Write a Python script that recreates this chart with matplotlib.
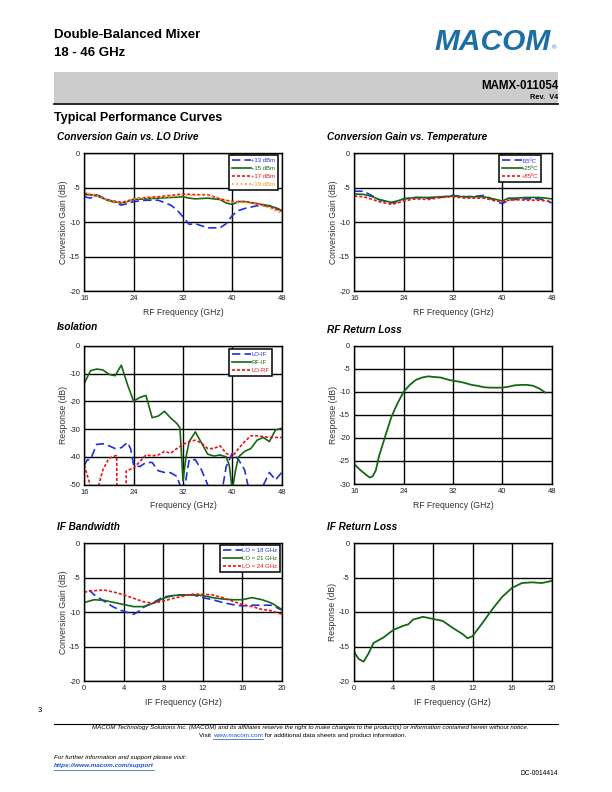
import matplotlib
matplotlib.use("Agg")
import matplotlib.pyplot as plt
from matplotlib.patches import Rectangle
from matplotlib.lines import Line2D

plt.rcParams['font.family'] = ['Liberation Sans', 'DejaVu Sans']
plt.rcParams['axes.unicode_minus'] = False

W, H = 612, 792
BLUE = '#1f2fe0'
GREEN = '#146814'
RED = '#f01010'
ORANGE = '#ff9a1a'

# ---------------- data ----------------
# Conversion gain vs LO drive
lo_f = [16, 17, 18, 20, 22, 23, 24, 26, 28, 30, 31, 32, 33, 34, 36, 38, 39, 40, 41, 42, 44, 46, 47, 48]
lo13 = [-6.3, -6.5, -6.0, -6.8, -7.5, -7.3, -7.0, -6.8, -6.8, -7.5, -8.2, -9.2, -10.3, -10.2, -10.8, -10.8, -10.2, -9.0, -8.3, -8.0, -7.6, -7.6, -7.9, -8.3]
lo15 = [-6.0, -6.0, -6.1, -6.9, -7.2, -7.0, -6.7, -6.6, -6.5, -6.4, -6.35, -6.3, -6.5, -6.6, -6.5, -6.7, -7.2, -7.4, -7.0, -7.0, -7.3, -7.6, -7.9, -8.3]
lo17 = [-5.7, -6.0, -6.2, -6.8, -7.1, -6.9, -6.6, -6.4, -6.3, -6.1, -6.0, -5.9, -5.95, -6.0, -6.0, -6.6, -6.8, -7.0, -7.0, -7.0, -7.3, -7.8, -8.1, -8.4]
lo19 = [-5.6, -5.9, -6.1, -6.9, -7.2, -7.0, -6.6, -6.5, -6.4, -6.3, -6.2, -6.1, -6.1, -6.1, -6.1, -6.6, -6.9, -7.1, -7.1, -7.1, -7.4, -7.9, -8.3, -8.7]
lo_labels = ['+13 dBm', '+15 dBm', '+17 dBm', '+19 dBm']

# Conversion gain vs temperature
t_f = [16, 17.5, 19, 20, 22, 23, 24, 26, 28, 30, 32, 34, 36, 37, 38, 39, 40, 41, 42, 44, 46, 47, 48]
t_m55 = [-5.5, -5.5, -6.2, -6.7, -7.2, -7.0, -6.6, -6.4, -6.5, -6.4, -6.1, -6.3, -6.2, -6.1, -6.5, -7.0, -7.3, -6.8, -6.7, -6.6, -6.6, -6.8, -7.2]
t_p25 = [-5.9, -5.95, -6.3, -6.7, -7.1, -6.9, -6.6, -6.4, -6.4, -6.3, -6.2, -6.3, -6.3, -6.3, -6.5, -6.7, -6.9, -6.5, -6.5, -6.4, -6.4, -6.5, -6.6]
t_p85 = [-6.2, -6.3, -6.7, -7.0, -7.4, -7.2, -6.9, -6.6, -6.7, -6.4, -6.3, -6.5, -6.5, -6.5, -6.7, -6.9, -7.0, -6.8, -6.7, -6.8, -6.8, -6.9, -7.0]
t_labels = ['-55ºC', '+25ºC', '+85ºC']

# Isolation
lo_if_f = [16, 16.5, 17, 18, 19, 20, 21, 22, 23, 23.5, 24, 25, 26, 27, 28, 29, 30, 31, 31.5, 32, 32.7, 33, 34, 35, 36, 37, 38.5, 39, 40, 41, 42, 42.5, 44, 46, 47, 48]
lo_if = [-43, -41, -41, -35.5, -35.3, -36, -37, -36.7, -34.8, -37, -43, -43.5, -42, -42, -45, -45.6, -45.7, -47, -50, -55, -45, -41, -41, -44.7, -50, -55, -50, -43.5, -38.7, -41, -44.7, -50, -55, -45.6, -48.3, -45.6]
rf_if_f = [16, 17, 18, 19, 20, 21, 22, 23, 24, 25, 26, 27, 28, 29, 30, 31, 31.5, 32, 32.5, 33, 34, 35, 36, 37, 38, 39, 39.5, 40, 40.5, 41, 42, 43, 44, 45, 46, 47, 48]
rf_if = [-13.5, -9, -8.4, -8.7, -10.3, -10.8, -7, -14, -20, -18.6, -17.9, -25.9, -25.3, -23.6, -26, -28, -29.5, -48.5, -40, -34.5, -31, -35, -39, -39.7, -39.3, -40, -43, -52, -45, -40, -38, -37, -34, -33, -34.5, -30.3, -29.7]
lo_rf_f = [16, 17, 18.3, 19, 20, 21, 21.25, 21.3, 22.75, 22.8, 24, 25, 26, 27, 28, 29, 30, 31, 32, 33, 34, 35, 36, 37, 38, 39, 40, 41, 42, 43, 44, 45, 46, 47, 48]
lo_rf = [-43, -50.5, -50.5, -44.7, -40.5, -39.6, -39.6, -55, -55, -45, -44, -41.7, -39.3, -39.6, -39.3, -38, -38.7, -37, -35.5, -34.5, -34, -35, -37, -37, -36, -38.7, -40, -37, -34.5, -32.4, -32.4, -32.7, -33, -33, -33]
iso_labels = ['LO-IF', 'RF-IF', 'LO-RF']

# RF return loss
rf_rl_f = [16, 17, 18, 18.5, 19, 19.5, 20, 21, 22, 23, 24, 25, 26, 27, 28, 29, 30, 31, 32, 33, 34, 35, 36, 37, 38, 39, 40, 41, 42, 43, 44, 45, 46, 47]
rf_rl = [-25.7, -27, -28.1, -28.6, -28.3, -27, -24, -19.7, -15.5, -12.5, -10, -8.5, -7.4, -6.9, -6.65, -6.8, -6.9, -7.3, -7.6, -7.8, -8.1, -8.5, -8.7, -9.0, -9.1, -9.1, -9.1, -8.9, -8.6, -8.5, -8.5, -8.7, -9.3, -10.2]

# IF bandwidth
ifb_f = [0, 1, 2, 3, 4, 5, 6, 7, 8, 9, 10, 11, 12, 13, 14, 15, 16, 17, 18, 19, 20]
ifb18_f = [0.5, 1, 2, 3, 4, 5, 5.5, 6, 7, 8, 9, 10, 11, 12, 13, 14, 15, 16, 17, 18, 19, 20]
ifb18 = [-6.8, -7.5, -8.4, -9.3, -9.9, -10.3, -9.9, -9.3, -8.6, -7.8, -7.6, -7.5, -7.5, -7.9, -8.2, -8.6, -8.9, -9.1, -9.0, -9.0, -9.0, -9.7]
ifb21 = [-8.6, -8.2, -8.3, -8.6, -8.9, -9.2, -9.2, -8.7, -8.0, -7.6, -7.5, -7.5, -7.6, -7.9, -8.1, -8.2, -8.2, -7.9, -8.2, -8.7, -9.6]
ifb24 = [-7.1, -6.9, -6.8, -7.1, -7.5, -8.0, -8.5, -8.7, -8.4, -8.0, -7.7, -7.4, -7.4, -7.5, -7.9, -8.4, -8.9, -9.2, -9.6, -9.8, -10.3]
ifb_labels = ['LO = 18 GHz', 'LO = 21 GHz', 'LO = 24 GHz']

# IF return loss
if_rl_f = [0, 0.5, 1, 1.5, 2, 3, 4, 5, 5.5, 6, 7, 8, 9, 10, 11, 11.5, 12, 13, 14, 15, 16, 17, 18, 19, 20]
if_rl = [-15.7, -16.8, -17.2, -16, -14.5, -13.7, -12.6, -12.0, -11.8, -11.1, -10.7, -11.0, -11.3, -12.3, -13.2, -13.8, -13.5, -11.6, -9.6, -7.8, -6.5, -5.8, -5.7, -5.8, -5.5]

rf_ticks = [16, 24, 32, 40, 48]
if_ticks = [0, 4, 8, 12, 16, 20]

# ---------------- figure ----------------
fig = plt.figure(figsize=(W / 100, H / 100), dpi=100)


def fx(x):
    return x / W


def fy(y):
    return 1 - y / H


def make_ax(l, t, r, b):
    ax = fig.add_axes([fx(l), fy(b), fx(r - l), (b - t) / H])
    ax.grid(True, color='black', lw=1.0)
    ax.set_axisbelow(True)
    for s in ax.spines.values():
        s.set_linewidth(1.0)
        s.set_color('black')
    ax.tick_params(length=0, labelsize=5.5, pad=3, colors='#222222')
    return ax


def lbl(ax, xl, yl):
    ax.set_xlabel(xl, fontsize=6.2, color='#333333', labelpad=4)
    ax.set_ylabel(yl, fontsize=6.2, color='#333333', labelpad=1)


def leg(ax, anchor):
    lg = ax.legend(loc='upper right', bbox_to_anchor=anchor, fontsize=4.3,
                   labelcolor='linecolor', frameon=True, fancybox=False,
                   shadow=False, edgecolor='black',
                   framealpha=1.0, handlelength=3.2, handletextpad=0.0,
                   borderpad=0.5, labelspacing=0.45, borderaxespad=0)
    lg.get_frame().set_linewidth(1.1)
    return lg


def title(x, y, s):
    fig.text(fx(x), fy(y), s, fontsize=7.2, fontweight='bold', style='italic',
             ha='left', va='center')


DASH = (0, (5, 2.5))
DOT = (0, (1.8, 1.2))

# Chart 1
ax1 = make_ax(84.3, 153.3, 281.7, 291.3)
ax1.plot(lo_f, lo13, color=BLUE, lw=1.2, ls=DASH, label=lo_labels[0])
ax1.plot(lo_f, lo15, color=GREEN, lw=1.2, ls='-', label=lo_labels[1])
ax1.plot(lo_f, lo17, color=RED, lw=1.2, ls=DOT, label=lo_labels[2])
ax1.plot(lo_f, lo19, color=ORANGE, lw=1.2, ls=(0, (1, 1.6)), label=lo_labels[3])
ax1.set_xlim(16, 48); ax1.set_ylim(-20, 0)
ax1.set_xticks(rf_ticks); ax1.set_yticks([0, -5, -10, -15, -20])
lbl(ax1, 'RF Frequency (GHz)', 'Conversion Gain (dB)')
leg(ax1, (0.981, 0.988))
title(57, 137, 'Conversion Gain vs. LO Drive')

# Chart 2
ax2 = make_ax(354.3, 153.3, 551.7, 291.3)
ax2.plot(t_f, t_m55, color=BLUE, lw=1.2, ls=DASH, label=t_labels[0])
ax2.plot(t_f, t_p25, color=GREEN, lw=1.2, ls='-', label=t_labels[1])
ax2.plot(t_f, t_p85, color=RED, lw=1.2, ls=DOT, label=t_labels[2])
ax2.set_xlim(16, 48); ax2.set_ylim(-20, 0)
ax2.set_xticks(rf_ticks); ax2.set_yticks([0, -5, -10, -15, -20])
lbl(ax2, 'RF Frequency (GHz)', 'Conversion Gain (dB)')
leg(ax2, (0.946, 0.985))
title(327, 137, 'Conversion Gain vs. Temperature')

# Chart 3
ax3 = make_ax(84.3, 345.7, 281.7, 484.7)
ax3.plot(lo_if_f, lo_if, color=BLUE, lw=1.2, ls=DASH, label=iso_labels[0])
ax3.plot(rf_if_f, rf_if, color=GREEN, lw=1.2, ls='-', label=iso_labels[1])
ax3.plot(lo_rf_f, lo_rf, color=RED, lw=1.2, ls=DOT, label=iso_labels[2])
ax3.set_xlim(16, 48); ax3.set_ylim(-50, 0)
ax3.set_xticks(rf_ticks); ax3.set_yticks([0, -10, -20, -30, -40, -50])
lbl(ax3, 'Frequency (GHz)', 'Response (dB)')
leg(ax3, (0.951, 0.976))
title(57, 327, 'Isolation')

# Chart 4
ax4 = make_ax(354.3, 345.7, 551.7, 484.0)
ax4.plot(rf_rl_f, rf_rl, color=GREEN, lw=1.3, ls='-')
ax4.set_xlim(16, 48); ax4.set_ylim(-30, 0)
ax4.set_xticks(rf_ticks); ax4.set_yticks([0, -5, -10, -15, -20, -25, -30])
lbl(ax4, 'RF Frequency (GHz)', 'Response (dB)')
title(327, 330, 'RF Return Loss')

# Chart 5
ax5 = make_ax(84.3, 543.0, 281.7, 681.3)
ax5.plot(ifb18_f, ifb18, color=BLUE, lw=1.2, ls=DASH, label=ifb_labels[0])
ax5.plot(ifb_f, ifb21, color=GREEN, lw=1.2, ls='-', label=ifb_labels[1])
ax5.plot(ifb_f, ifb24, color=RED, lw=1.2, ls=DOT, label=ifb_labels[2])
ax5.set_xlim(0, 20); ax5.set_ylim(-20, 0)
ax5.set_xticks(if_ticks); ax5.set_yticks([0, -5, -10, -15, -20])
lbl(ax5, 'IF Frequency (GHz)', 'Conversion Gain (dB)')
leg(ax5, (0.992, 0.985))
title(57, 527, 'IF Bandwidth')

# Chart 6
ax6 = make_ax(353.7, 543.0, 551.7, 681.0)
ax6.plot(if_rl_f, if_rl, color=GREEN, lw=1.3, ls='-')
ax6.set_xlim(0, 20); ax6.set_ylim(-20, 0)
ax6.set_xticks(if_ticks); ax6.set_yticks([0, -5, -10, -15, -20])
lbl(ax6, 'IF Frequency (GHz)', 'Response (dB)')
title(327, 527, 'IF Return Loss')

# ---------------- header ----------------
fig.text(fx(54), fy(35), 'Double-Balanced Mixer', fontsize=9.5, fontweight='bold',
         ha='left', va='center')
fig.text(fx(54), fy(53), '18 - 46 GHz', fontsize=9.5, fontweight='bold',
         ha='left', va='center')
fig.text(fx(551), fy(41.5), 'MACOM', fontsize=21.5, fontweight='heavy', style='italic',
         color='#1c6ea4', ha='right', va='center')
fig.text(fx(557), fy(48), '®', fontsize=4.5, color='#1c6ea4', ha='right', va='center')

fig.patches.append(Rectangle((fx(54), fy(103)), fx(558 - 54), (103 - 72) / H,
                             transform=fig.transFigure, facecolor='#cccccc',
                             edgecolor='none', zorder=0))
fig.add_artist(Line2D([fx(54), fx(558)], [fy(103.5), fy(103.5)], transform=fig.transFigure,
                      color='black', lw=1.2))
fig.text(fx(558), fy(86), 'MAMX-011054', fontsize=8.3, fontweight='bold',
         ha='right', va='center')
fig.text(fx(558), fy(97.5), 'Rev.  V4', fontsize=5.3, fontweight='bold',
         ha='right', va='center')
fig.text(fx(54), fy(118), 'Typical Performance Curves', fontsize=9, fontweight='bold',
         ha='left', va='center')

# ---------------- footer ----------------
fig.text(fx(40), fy(711), '3', fontsize=5.5, ha='center', va='center')
fig.add_artist(Line2D([fx(54), fx(558)], [fy(723.5), fy(723.5)], transform=fig.transFigure,
                      color='black', lw=0.8))
fig.text(fx(310), fy(728), 'MACOM Technology Solutions Inc. (MACOM) and its affiliates reserve the right to make changes to the product(s) or information contained herein without notice.',
         fontsize=4.45, style='italic', ha='center', va='center')

fig.canvas.draw()
renderer = fig.canvas.get_renderer()
parts = [('Visit ', 'black'), ('www.macom.com', '#1a4fd6'),
         (' for additional data sheets and product information.', 'black')]
xcur = 199
link_extent = None
for s, c in parts:
    t = fig.text(fx(xcur), fy(735.5), s, fontsize=4.6, color=c, ha='left', va='center')
    bb = t.get_window_extent(renderer)
    if c != 'black':
        link_extent = (xcur, xcur + bb.width)
    xcur += bb.width
fig.add_artist(Line2D([fx(link_extent[0]), fx(link_extent[1])], [fy(739), fy(739)],
                      transform=fig.transFigure, color='#1a4fd6', lw=0.5))

fig.text(fx(54), fy(758), 'For further information and support please visit:', fontsize=4.6,
         style='italic', ha='left', va='center')
ts = fig.text(fx(54), fy(766), 'https://www.macom.com/support', fontsize=4.6, style='italic',
              fontweight='bold', color='#1a4fd6', ha='left', va='center')
bw = ts.get_window_extent(renderer).width
fig.add_artist(Line2D([fx(54), fx(54 + bw)], [fy(769.5), fy(769.5)], transform=fig.transFigure,
                      color='#1a4fd6', lw=0.5))
fig.text(fx(558), fy(773.5), 'DC-0014414', fontsize=4.8, ha='right', va='center')

fig.savefig('out.png', dpi=100)
